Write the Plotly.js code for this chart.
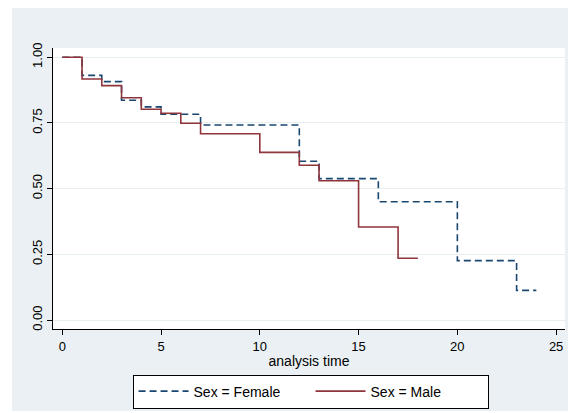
<!DOCTYPE html>
<html>
<head>
<meta charset="utf-8">
<script src="https://cdn.plot.ly/plotly-3.0.1.min.js"></script>
<style>
  html, body { margin: 0; padding: 0; background: #ffffff; }
  #chart { position: absolute; left: 12px; top: 8px; width: 556px; height: 403px; }
</style>
</head>
<body>
<div id="chart"></div>
<script>
// Kaplan-Meier survival estimates
var femaleTime = [0, 1, 2, 3, 4, 5, 7, 12, 13, 16, 20, 23, 24];
var femaleSurv = [1.000, 0.931, 0.907, 0.836, 0.811, 0.783, 0.742, 0.604, 0.538, 0.450, 0.226, 0.113, 0.113];
var maleTime = [0, 1, 2, 3, 4, 5, 6, 7, 10, 12, 13, 15, 17, 18];
var maleSurv = [1.000, 0.917, 0.892, 0.846, 0.802, 0.787, 0.749, 0.709, 0.638, 0.589, 0.530, 0.354, 0.235, 0.235];
var xTicks = [0, 5, 10, 15, 20, 25];
var yTicks = [0, 0.25, 0.5, 0.75, 1];
var yTickLabels = ["0.00", "0.25", "0.50", "0.75", "1.00"];
var seriesNames = ["Sex = Female", "Sex = Male"];

var traces = [
  {
    x: femaleTime, y: femaleSurv, name: seriesNames[0],
    type: "scatter", mode: "lines",
    line: { shape: "hv", color: "#1a476f", width: 1.6, dash: "7px,4px" }
  },
  {
    x: maleTime, y: maleSurv, name: seriesNames[1],
    type: "scatter", mode: "lines",
    line: { shape: "hv", color: "#90353b", width: 1.6 }
  }
];

var layout = {
  width: 556, height: 403,
  paper_bgcolor: "#eaf0f3",
  plot_bgcolor: "#ffffff",
  margin: { l: 41, r: 3, t: 40, b: 82 },
  font: { family: "Liberation Sans, Arial, sans-serif", size: 13, color: "#000000" },
  showlegend: true,
  legend: {
    orientation: "h",
    x: 0.503, xanchor: "center",
    y: -0.162, yanchor: "top",
    bgcolor: "#ffffff",
    bordercolor: "#000000", borderwidth: 1,
    font: { size: 14 },
    entrywidth: 112, entrywidthmode: "pixels",
    itemwidth: 50,
    traceorder: "normal"
  },
  xaxis: {
    range: [-0.47, 25.45],
    tickvals: xTicks,
    ticks: "outside", ticklen: 5, tickcolor: "#000000",
    showline: true, linecolor: "#000000", linewidth: 1,
    showgrid: false, zeroline: false,
    tickfont: { size: 13 },
    title: { text: "analysis time", font: { size: 14 }, standoff: 3 },
    automargin: false
  },
  yaxis: {
    range: [-0.034, 1.035],
    tickvals: yTicks, ticktext: yTickLabels,
    tickangle: -90,
    ticks: "outside", ticklen: 5, tickcolor: "#000000",
    showline: true, linecolor: "#000000", linewidth: 1,
    showgrid: true, gridcolor: "#e6eef0", gridwidth: 1,
    zeroline: false,
    tickfont: { size: 13 },
    automargin: false
  }
};

Plotly.newPlot("chart", traces, layout, { displayModeBar: false, staticPlot: true });
</script>
</body>
</html>
